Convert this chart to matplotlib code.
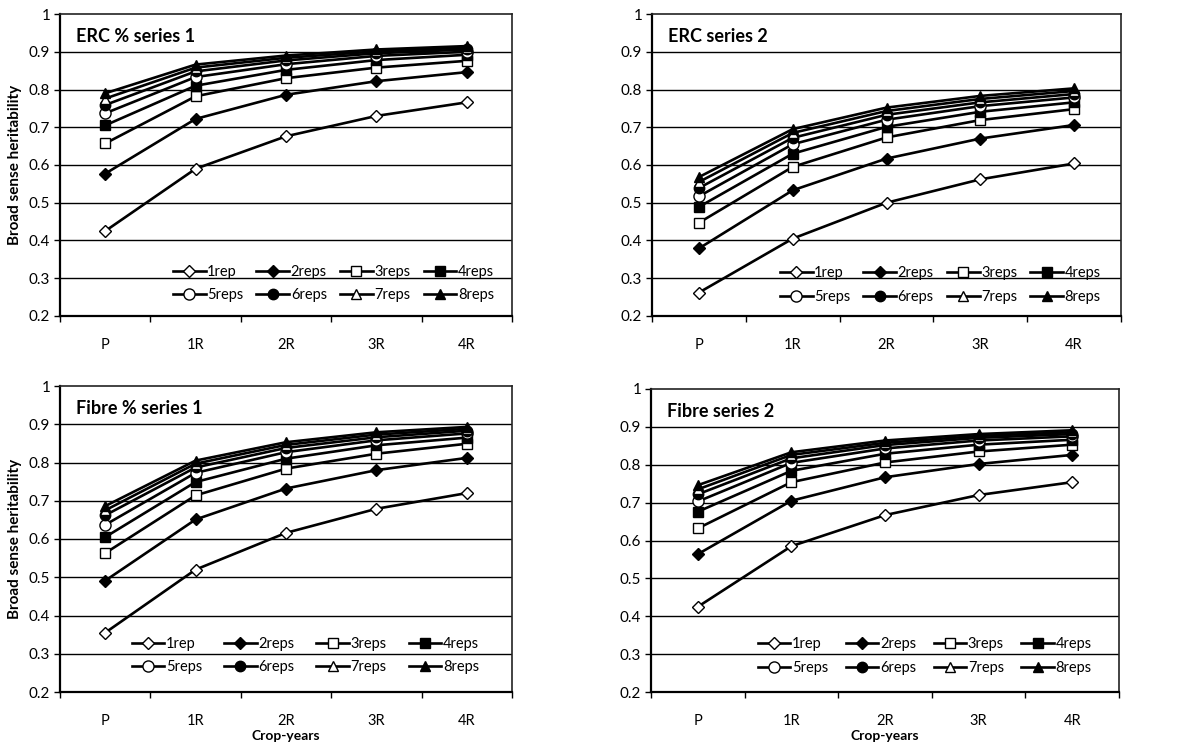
import matplotlib
matplotlib.use("Agg")
import matplotlib.pyplot as plt

plt.rcParams['font.family'] = ['Lato', 'DejaVu Sans']

categories = ["P", "1R", "2R", "3R", "4R"]
series_names = ["1rep", "2reps", "3reps", "4reps", "5reps", "6reps", "7reps", "8reps"]

erc_s1 = [
    [0.425, 0.590, 0.676, 0.730, 0.766],
    [0.577, 0.722, 0.786, 0.822, 0.846],
    [0.657, 0.782, 0.830, 0.858, 0.876],
    [0.705, 0.810, 0.852, 0.878, 0.892],
    [0.737, 0.833, 0.867, 0.889, 0.900],
    [0.759, 0.848, 0.877, 0.896, 0.906],
    [0.776, 0.858, 0.884, 0.901, 0.911],
    [0.790, 0.866, 0.890, 0.906, 0.915],
]
erc_s2 = [
    [0.262, 0.405, 0.500, 0.562, 0.604],
    [0.379, 0.533, 0.617, 0.670, 0.706],
    [0.447, 0.595, 0.673, 0.719, 0.748],
    [0.489, 0.630, 0.701, 0.741, 0.766],
    [0.517, 0.655, 0.720, 0.756, 0.779],
    [0.539, 0.672, 0.733, 0.766, 0.788],
    [0.555, 0.685, 0.743, 0.775, 0.796],
    [0.568, 0.695, 0.752, 0.783, 0.803],
]
fibre_s1 = [
    [0.355, 0.520, 0.616, 0.679, 0.720],
    [0.491, 0.651, 0.732, 0.780, 0.812],
    [0.563, 0.714, 0.784, 0.823, 0.849],
    [0.605, 0.749, 0.810, 0.845, 0.865],
    [0.637, 0.773, 0.827, 0.858, 0.876],
    [0.662, 0.787, 0.838, 0.866, 0.883],
    [0.675, 0.797, 0.846, 0.873, 0.888],
    [0.686, 0.805, 0.853, 0.879, 0.893],
]
fibre_s2 = [
    [0.425, 0.585, 0.667, 0.720, 0.754],
    [0.564, 0.705, 0.767, 0.802, 0.826],
    [0.632, 0.754, 0.806, 0.835, 0.853],
    [0.676, 0.784, 0.829, 0.853, 0.866],
    [0.703, 0.805, 0.843, 0.864, 0.875],
    [0.722, 0.817, 0.852, 0.871, 0.881],
    [0.735, 0.826, 0.858, 0.876, 0.886],
    [0.746, 0.833, 0.864, 0.881, 0.891],
]

titles = ["ERC % series 1", "ERC series 2", "Fibre % series 1", "Fibre series 2"]
panels = [erc_s1, erc_s2, fibre_s1, fibre_s2]

markers = ["D", "D", "s", "s", "o", "o", "^", "^"]
facecolors = ["white", "black", "white", "black", "white", "black", "white", "black"]
msizes = [6, 6, 6.5, 6.5, 8, 7.5, 7, 7]

W, H = 1192, 747
fig = plt.figure(figsize=(W / 100, H / 100), dpi=100)

def px_axes(l, r, t, b):
    return [l / W, 1 - b / H, (r - l) / W, (b - t) / H]

rects = [
    px_axes(60, 512, 14, 316),
    px_axes(652, 1121, 14, 316),
    px_axes(60, 512, 386, 692),
    px_axes(651, 1119, 389, 692),
]
legend_anchor = [(0.960, 0.045), (0.957, 0.040), (0.927, 0.058), (0.942, 0.057)]
legend_colspace = [0.9, 0.9, 1.5, 1.2]

x = list(range(len(categories)))
for i, (ax_rect, data, title) in enumerate(zip(rects, panels, titles)):
    ax = fig.add_axes(ax_rect)
    ax.set_xlim(-0.5, len(categories) - 0.5)
    ax.set_ylim(0.2, 1.0)
    yt = [round(0.2 + 0.1 * k, 1) for k in range(9)]
    ax.set_yticks(yt)
    ax.set_yticklabels(["1" if v == 1.0 else f"{v:.1f}" for v in yt])
    for v in yt[1:-1]:
        ax.axhline(v, color="black", lw=1.0, zorder=1)
    ax.set_xticks(x)
    ax.set_xticklabels(categories)
    ax.set_xticks([k + 0.5 for k in range(-1, len(categories))], minor=True)
    ax.tick_params(axis="x", which="major", length=0, pad=16, labelsize=10.5)
    ax.tick_params(axis="x", which="minor", length=4, width=1, direction="out")
    ax.tick_params(axis="y", length=4, width=1, direction="out", labelsize=11, pad=3)
    for side in ["left", "bottom"]:
        ax.spines[side].set_linewidth(1.6)
        ax.spines[side].set_color("black")
    for side in ["top", "right"]:
        ax.spines[side].set_linewidth(1.2)
        ax.spines[side].set_color("#222222")
    handles = []
    for j, name in enumerate(series_names):
        (h,) = ax.plot(x, data[j], color="black", lw=1.9, marker=markers[j],
                       markersize=msizes[j], markerfacecolor=facecolors[j],
                       markeredgecolor="black", markeredgewidth=1.0,
                       label=name, zorder=3 + j, clip_on=False)
        handles.append(h)
    ax.text(0.035, 0.955, title, transform=ax.transAxes, fontsize=13,
            fontweight="bold", va="top", ha="left")
    # row-major order for a 2x4 legend (matplotlib fills column-wise)
    order = [0, 4, 1, 5, 2, 6, 3, 7]
    ax.legend(handles=[handles[k] for k in order], ncol=4, loc="lower right",
              bbox_to_anchor=legend_anchor[i], frameon=False, fontsize=10.5,
              handlelength=2.25, handletextpad=0.1, columnspacing=legend_colspace[i],
              labelspacing=0.65, numpoints=1, borderaxespad=0, borderpad=0)
    if i in (0, 2):
        ax.set_ylabel("Broad sense heritability", fontsize=11, fontweight="bold", labelpad=5)
    if i in (2, 3):
        ax.set_xlabel("Crop-years", fontsize=10, fontweight="bold", labelpad=1)

fig.savefig("out.png", dpi=100)
